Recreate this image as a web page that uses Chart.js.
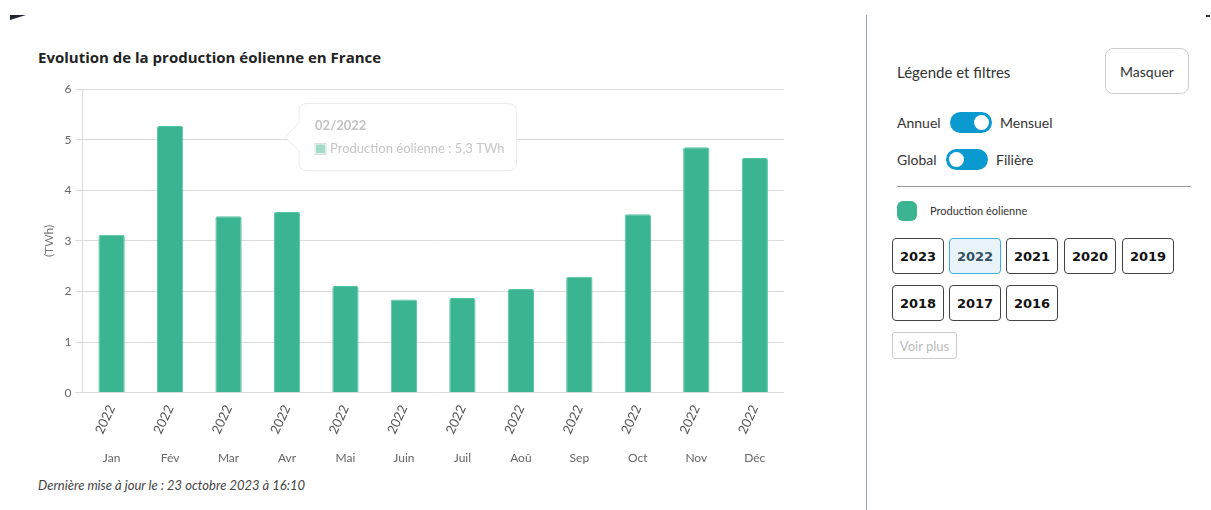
<!DOCTYPE html>
<html>
<head>
<meta charset="utf-8">
<script src="https://cdn.jsdelivr.net/npm/chart.js@4.4.0/dist/chart.umd.min.js"></script>
<style>
  body { margin: 0; width: 1211px; height: 510px; background: #fff; font-family: Lato, "Open Sans", sans-serif; position: relative; overflow: hidden; }
  .corner { position: absolute; left: 10px; top: 15px; width: 0; height: 0; border-top: 5px solid #1c2530; border-right: 16px solid transparent; }
  .corner-r { position: absolute; left: 1206px; top: 15px; width: 4px; height: 2px; background: #333; }
  #title { position: absolute; left: 38px; top: 47px; font-family: "Open Sans", sans-serif; font-size: 15px; font-weight: bold; color: #222; }
  #chart-wrap { position: absolute; left: 38px; top: 78px; width: 756px; height: 391px; }
  #footer { position: absolute; left: 38px; top: 477px; font-size: 13px; font-style: italic; color: #444; }
  #divider { position: absolute; left: 866px; top: 15px; width: 1px; height: 495px; background: #9aa6b4; }
  .panel-txt { position: absolute; color: #333; font-size: 14px; }
  #masquer { position: absolute; left: 1105px; top: 48px; width: 84px; height: 46px; border: 1px solid #ccc; border-radius: 8px; box-sizing: border-box; font-size: 14px; color: #333; display: flex; align-items: center; justify-content: center; }
  .switch { position: absolute; width: 42px; height: 21px; border-radius: 11px; background: #0a9ad0; }
  .switch .knob { position: absolute; top: 3px; width: 15px; height: 15px; border-radius: 50%; background: #fff; }
  #hr { position: absolute; left: 897px; top: 186px; width: 294px; height: 1px; background: #999; }
  #legend-dot { position: absolute; left: 897px; top: 201px; width: 20px; height: 20px; border-radius: 6px; background: #3bb591; }
  .year { position: absolute; width: 52px; height: 36px; border: 1px solid #444; border-radius: 4px; box-sizing: border-box; font-family: "DejaVu Sans", sans-serif; font-weight: bold; font-size: 13px; color: #111; display: flex; align-items: center; justify-content: center; }
  .year.active { background: #e8f4fa; border-color: #3ab1e0; color: #33505f; }
  #voir { position: absolute; left: 892px; top: 332px; width: 65px; height: 27px; border: 1px solid #ccc; border-radius: 3px; box-sizing: border-box; font-size: 13px; color: #bbb; display: flex; align-items: center; justify-content: center; }
</style>
</head>
<body>
<div class="corner"></div>
<div class="corner-r"></div>
<div id="title">Evolution de la production éolienne en France</div>
<div id="chart-wrap"><canvas id="graph-canvas"></canvas></div>
<div id="footer">Dernière mise à jour le : 23 octobre 2023 à 16:10</div>

<div id="divider"></div>
<div class="panel-txt" style="left:897px;top:63px;font-size:15px;">Légende et filtres</div>
<div id="masquer">Masquer</div>
<div class="panel-txt" style="left:897px;top:114px;">Annuel</div>
<div class="switch" style="left:950px;top:112px;"><div class="knob" style="left:24px;"></div></div>
<div class="panel-txt" style="left:1000px;top:114px;">Mensuel</div>
<div class="panel-txt" style="left:897px;top:151px;">Global</div>
<div class="switch" style="left:946px;top:149px;"><div class="knob" style="left:3px;"></div></div>
<div class="panel-txt" style="left:996px;top:151px;">Filière</div>
<div id="hr"></div>
<div id="legend-dot"></div>
<div class="panel-txt" style="left:930px;top:204px;font-size:11px;">Production éolienne</div>
<div id="years"></div>
<div id="voir">Voir plus</div>

<script>
// monthly wind production, 2022 (TWh)
const monthLabels = ['Jan', 'Fév', 'Mar', 'Avr', 'Mai', 'Juin', 'Juil', 'Aoû', 'Sep', 'Oct', 'Nov', 'Déc'];
const yearLabels = ['2022', '2022', '2022', '2022', '2022', '2022', '2022', '2022', '2022', '2022', '2022', '2022'];
const windProduction = [3.12, 5.27, 3.49, 3.57, 2.11, 1.84, 1.87, 2.05, 2.29, 3.53, 4.85, 4.64];
const yearButtons = ['2023', '2022', '2021', '2020', '2019', '2018', '2017', '2016'];
const selectedYear = '2022';
const tooltipIndex = 1;

// year filter buttons
const btnLeft = [892, 949, 1006, 1064, 1122];
yearButtons.forEach(function (y, i) {
  const b = document.createElement('div');
  b.className = 'year' + (y === selectedYear ? ' active' : '');
  b.textContent = y;
  b.style.left = btnLeft[i % 5] + 'px';
  b.style.top = (i < 5 ? 238 : 285) + 'px';
  document.getElementById('years').appendChild(b);
});

const green = '#3bb591';

Chart.Tooltip.positioners.besideBar = function (items) {
  if (!items.length) return false;
  const el = items[0].element;
  return { x: el.x + 113, y: el.y + 11 };
};

const data = {
  labels: monthLabels,
  datasets: [{
    label: 'Production éolienne',
    data: windProduction,
    backgroundColor: green,
    borderColor: '#55c4a3',
    borderWidth: 1,
    borderRadius: 2,
    borderSkipped: 'bottom',
    barPercentage: 0.45,
    categoryPercentage: 1,
    xAxisID: 'x'
  }]
};

const config = {
  type: 'bar',
  data: data,
  options: {
    responsive: true,
    maintainAspectRatio: false,
    animation: false,
    events: [],
    layout: { padding: { top: 2, right: 10 } },
    plugins: {
      legend: { display: false },
      tooltip: {
        enabled: true,
        position: 'besideBar',
        xAlign: 'left',
        yAlign: 'center',
        backgroundColor: '#fff',
        borderColor: '#ececec',
        borderWidth: 1,
        cornerRadius: 8,
        caretSize: 14,
        caretPadding: 2,
        padding: { left: 16, right: 12, top: 14, bottom: 14 },
        titleColor: '#c2c2c2',
        bodyColor: '#c6c6c6',
        titleFont: { family: 'Lato', size: 13, weight: 'bold' },
        bodyFont: { family: 'Lato', size: 13 },
        titleMarginBottom: 8,
        boxWidth: 11,
        boxHeight: 11,
        boxPadding: 2,
        callbacks: {
          title: function (items) {
            const m = String(items[0].dataIndex + 1).padStart(2, '0');
            return m + '/' + yearLabels[items[0].dataIndex];
          },
          label: function (item) {
            return item.dataset.label + ' : ' + item.parsed.y.toFixed(1).replace('.', ',') + ' TWh';
          },
          labelColor: function () {
            return { borderColor: '#dcdcdc', backgroundColor: '#a3dccb', borderWidth: 1 };
          }
        }
      }
    },
    scales: {
      y: {
        min: 0,
        max: 6,
        ticks: { stepSize: 1, color: '#666', font: { family: 'Lato', size: 12 }, padding: 4 },
        grid: { color: '#dcdcdc', tickLength: 7 },
        border: { display: true, color: '#dcdcdc' },
        title: { display: true, text: '(TWh)', color: '#777', font: { family: 'Lato', size: 12 }, padding: 4 }
      },
      x2: {
        type: 'category',
        labels: yearLabels,
        position: 'bottom',
        weight: 0,
        grid: { display: false, drawTicks: false },
        border: { display: false },
        ticks: { color: '#555', minRotation: 65, maxRotation: 65, font: { family: 'Lato', size: 13 }, padding: 10 }
      },
      x: {
        position: 'bottom',
        weight: 1,
        grid: { display: false, drawTicks: false },
        border: { display: false },
        ticks: { color: '#666', maxRotation: 0, font: { family: 'Lato', size: 12 }, padding: 4 }
      }
    }
  }
};

const chart = new Chart(document.getElementById('graph-canvas'), config);
chart.tooltip.setActiveElements([{ datasetIndex: 0, index: tooltipIndex }], { x: 0, y: 0 });
chart.update();
</script>
</body>
</html>
